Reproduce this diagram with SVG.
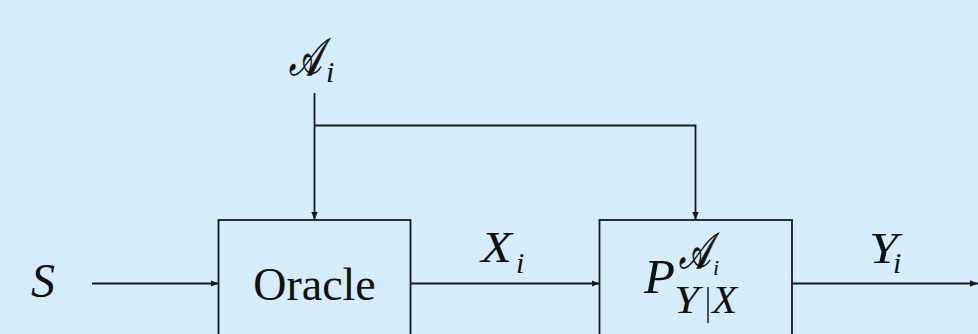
<svg xmlns="http://www.w3.org/2000/svg" width="978" height="334" viewBox="0 0 978 334">
<defs>
<marker id="ah" viewBox="0 0 10 10" refX="10" refY="5" markerWidth="8" markerHeight="8" markerUnits="userSpaceOnUse" orient="auto">
<path d="M0,1 L10,5 L0,9 z" fill="#1a1a1a"/>
</marker>
<style>
.box{fill:none;stroke:#1a1a1a;stroke-width:1.8}
.ln{fill:none;stroke:#1a1a1a;stroke-width:1.8}
.m{font-family:"Liberation Serif","DejaVu Serif",serif;font-style:italic;fill:#111}
.r{font-family:"Liberation Serif","DejaVu Serif",serif;fill:#111}
.cal{stroke:#111;stroke-width:0.8}
</style>
</defs>
<rect width="978" height="334" fill="#d5ecfa"/>
<g id="connectors">
<line class="ln" x1="92" y1="283.5" x2="218.5" y2="283.5" marker-end="url(#ah)"/>
<line class="ln" x1="410.5" y1="283.5" x2="599.5" y2="283.5" marker-end="url(#ah)"/>
<line class="ln" x1="792" y1="283.5" x2="978" y2="283.5" marker-end="url(#ah)"/>
<line class="ln" x1="314.5" y1="93" x2="314.5" y2="220" marker-end="url(#ah)"/>
<polyline class="ln" points="314.5,125.5 695.5,125.5 695.5,220" marker-end="url(#ah)"/>
</g>
<g id="source">
<text class="m" x="31" y="297" font-size="48">S</text>
</g>
<g id="action">
<text class="m cal" x="289" y="75" font-size="52" textLength="32" lengthAdjust="spacingAndGlyphs">𝒜</text>
<text class="m" x="326" y="82" font-size="30">i</text>
</g>
<g id="oracle">
<rect class="box" x="218.5" y="220" width="192" height="200"/>
<text class="r" x="314.5" y="300" font-size="46" text-anchor="middle">Oracle</text>
</g>
<g id="xlabel">
<text class="m" x="481" y="262" font-size="45" textLength="31" lengthAdjust="spacingAndGlyphs">X</text>
<text class="m" x="516" y="273" font-size="30">i</text>
</g>
<g id="channel">
<rect class="box" x="599.5" y="220" width="192.5" height="200"/>
<text class="m" x="644" y="293" font-size="48" textLength="31" lengthAdjust="spacingAndGlyphs">P</text>
<text class="m cal" x="679" y="268" font-size="50" textLength="31" lengthAdjust="spacingAndGlyphs">𝒜</text>
<text class="m" x="713" y="275" font-size="22">i</text>
<text class="m" x="674" y="313" font-size="39" textLength="25" lengthAdjust="spacingAndGlyphs">Y</text>
<line x1="708" y1="287" x2="708" y2="323" stroke="#111" stroke-width="1.4"/>
<text class="m" x="712" y="313" font-size="39" textLength="25" lengthAdjust="spacingAndGlyphs">X</text>
</g>
<g id="ylabel">
<text class="m" x="869" y="263" font-size="45" textLength="29" lengthAdjust="spacingAndGlyphs">Y</text>
<text class="m" x="893" y="273" font-size="30">i</text>
</g>
</svg>
